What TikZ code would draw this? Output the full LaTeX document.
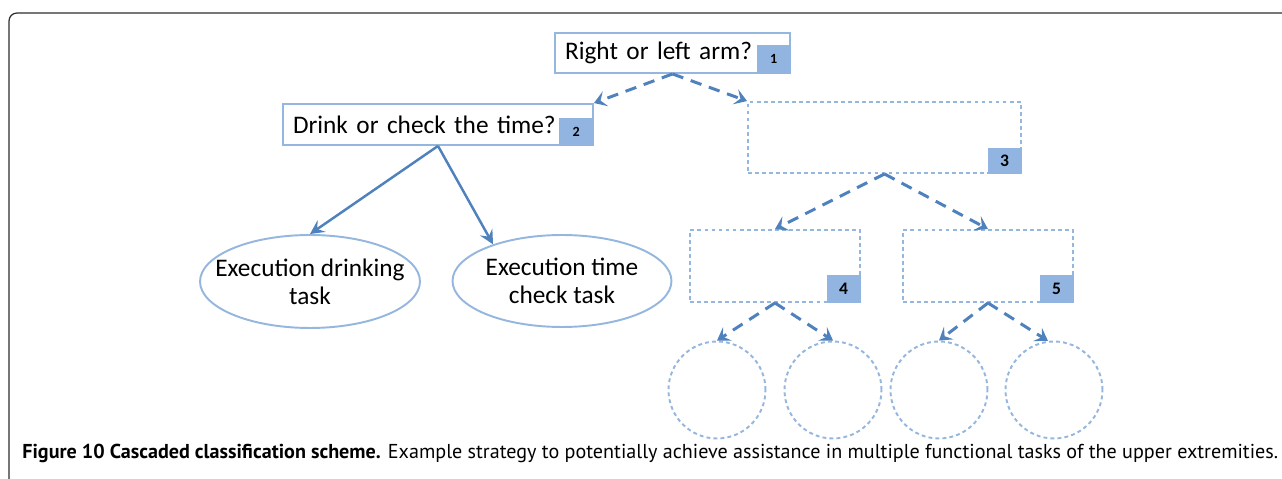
\documentclass[tikz,border=0pt]{standalone}
\usepackage{fontspec}
\setmainfont{Carlito}
\newfontfamily\capfont{PT Sans}
\usetikzlibrary{arrows.meta,shapes.geometric}

\definecolor{linkblue}{RGB}{79,129,189}
\definecolor{edgeblue}{RGB}{149,182,222}
\definecolor{tagblue}{RGB}{146,180,224}
\definecolor{framegray}{RGB}{45,45,45}

\tikzset{
		qbox/.style    = {shape=rectangle, draw=edgeblue, line width=1.1pt,
				align=left, minimum height=0.8cm, inner xsep=0.2cm,
				font=\fontsize{14.4}{17}\selectfont},
		openbox/.style = {shape=rectangle, draw=edgeblue, line width=1.1pt,
				dash pattern=on 2.2pt off 1.8pt,
				minimum width=3.4cm, minimum height=1.44cm},
		tag/.style     = {fill=tagblue, minimum width=0.68cm, minimum height=0.56cm,
				inner sep=0pt, font=\bfseries\fontsize{8}{9}\selectfont},
		bigtag/.style  = {tag, font=\bfseries\fontsize{10}{11}\selectfont},
		task/.style    = {ellipse, draw=edgeblue, line width=1.1pt, align=center,
				minimum width=4.4cm, minimum height=1.86cm,
				inner xsep=-0.4cm, inner ysep=0pt,
				font=\fontsize{14.4}{16}\selectfont},
		leaf/.style    = {circle, draw=edgeblue, line width=1.1pt,
				dash pattern=on 2.2pt off 1.8pt, minimum size=1.94cm},
		link/.style    = {draw=linkblue, line width=1.7pt,
				dash pattern=on 6.5pt off 4.5pt,
				-{Stealth[length=7pt, width=9pt, inset=3pt]}},
		firm/.style    = {draw=linkblue, line width=1.4pt,
				-{Stealth[length=8pt, width=8pt, inset=3pt]}}
	}

\begin{document}
\begin{tikzpicture}[x=0.02cm, y=-0.02cm]
				\useasboundingbox (0,0) rectangle (1282,479);
				% frame
				\draw[framegray, line width=0.7pt, rounded corners=0.16cm]
					(9,479) -- (9,13) -- (1282,13);

				% questions
				\node [qbox, text width=4.3cm] (q1) at (672.5,53) {Right or left arm?};
				\node [tag, anchor=south east, minimum height=0.58cm] (t1) at (q1.south east) {1};
				\node [qbox, text width=5.8cm, minimum height=0.82cm] (q2) at (438,124.5) {Drink or check the time?};
				\node [tag, anchor=south east, minimum width=0.7cm] (t2) at (q2.south east) {2};

				% open classifiers
				\node [openbox, minimum width=5.46cm, minimum height=1.42cm] (q3) at (884.5,137.5) {};
				\node [bigtag, anchor=south east, minimum height=0.52cm] (t3) at (q3.south east) {3};
				\node [openbox] (q4) at (775,266) {};
				\node [bigtag, anchor=south east] (t4) at (q4.south east) {4};
				\node [openbox] (q5) at (988,266) {};
				\node [bigtag, anchor=south east] (t5) at (q5.south east) {5};

				% tasks
				\node [task] (e1) at (310,281.5) {Execution drinking\\task};
				\node [task, minimum width=4.38cm, minimum height=1.84cm] (e2) at (562,281) {Execution time\\check task};

				% open leaves
				\node [leaf] (c1) at (717,390) {};
				\node [leaf] (c2) at (833,390) {};
				\node [leaf] (c3) at (939,390) {};
				\node [leaf] (c4) at (1054,390) {};

				% connectors
				\draw [link] (q1.south) -- (q2.north east);
				\draw [link] (q1.south) -- (q3.north west);
				\draw [link] (q3.south) -- (q4.north);
				\draw [link] (q3.south) -- (q5.north);
				\draw [link] (q4.south) -- (c1.north);
				\draw [link] (q4.south) -- (c2.north);
				\draw [link] (q5.south) -- (c3.north);
				\draw [link] (q5.south) -- (c4.97);
				\draw [firm] (q2.south) -- (e1.north);
				\draw [firm] (q2.south) -- (e2.152);

				% caption
				\node [anchor=base west, inner sep=0pt] (cap) at (22,459)
					{\resizebox{25.12cm}{!}{\capfont\fontsize{10}{12}\selectfont\textbf{Figure 10 Cascaded classification scheme.} Example strategy to potentially achieve assistance in multiple functional tasks of the upper extremities.}};
\end{tikzpicture}
\end{document}
